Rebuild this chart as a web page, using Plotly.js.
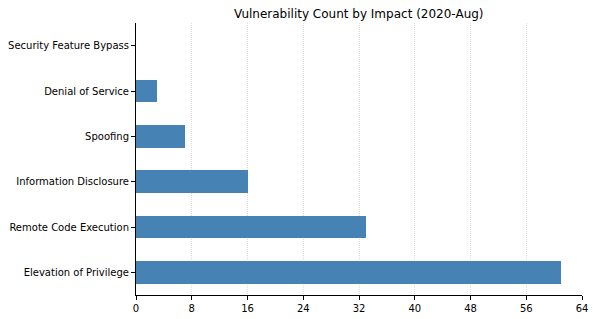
<!DOCTYPE html>
<html>
<head>
<meta charset="utf-8">
<script src="https://cdn.plot.ly/plotly-3.0.1.min.js"></script>
<style>html,body{margin:0;padding:0;background:#fff;}#chart{width:595px;height:319px;}</style>
</head>
<body>
<div id="chart"></div>
<script>
const categories = ["Elevation of Privilege", "Remote Code Execution", "Information Disclosure", "Spoofing", "Denial of Service", "Security Feature Bypass"];
const counts = [61, 33, 16, 7, 3, 0];
const xTicks = [0, 8, 16, 24, 32, 40, 48, 56, 64];

const trace = {
  type: "bar",
  orientation: "h",
  x: counts,
  y: categories,
  width: 0.5,
  marker: {color: "#4682b4"},
  hoverinfo: "x+y"
};

const layout = {
  width: 595,
  height: 319,
  margin: {l: 136, r: 13, t: 23, b: 24},
  paper_bgcolor: "#fff",
  plot_bgcolor: "#fff",
  font: {family: "DejaVu Sans", size: 10, color: "#000"},
  title: {text: "Vulnerability Count by Impact (2020-Aug)", font: {size: 12, color: "#000"}, x: 0.603, xanchor: "center", y: 0.958, yanchor: "middle"},
  showlegend: false,
  bargap: 0,
  xaxis: {
    range: [0, 64],
    tickvals: xTicks,
    ticktext: xTicks.map(String),
    ticks: "outside",
    ticklen: 4,
    tickcolor: "#000",
    showline: true,
    linecolor: "#000",
    linewidth: 1,
    showgrid: true,
    gridcolor: "#dedede",
    griddash: "1px,1px",
    gridwidth: 1,
    zeroline: false,
    fixedrange: true
  },
  yaxis: {
    type: "category",
    categoryorder: "array",
    categoryarray: categories,
    range: [-0.5, 5.5],
    ticks: "outside",
    ticklen: 4,
    tickcolor: "#000",
    showline: true,
    linecolor: "#000",
    linewidth: 1,
    showgrid: false,
    zeroline: false,
    fixedrange: true
  }
};

Plotly.newPlot("chart", [trace], layout, {displayModeBar: false, staticPlot: true});
</script>
</body>
</html>
